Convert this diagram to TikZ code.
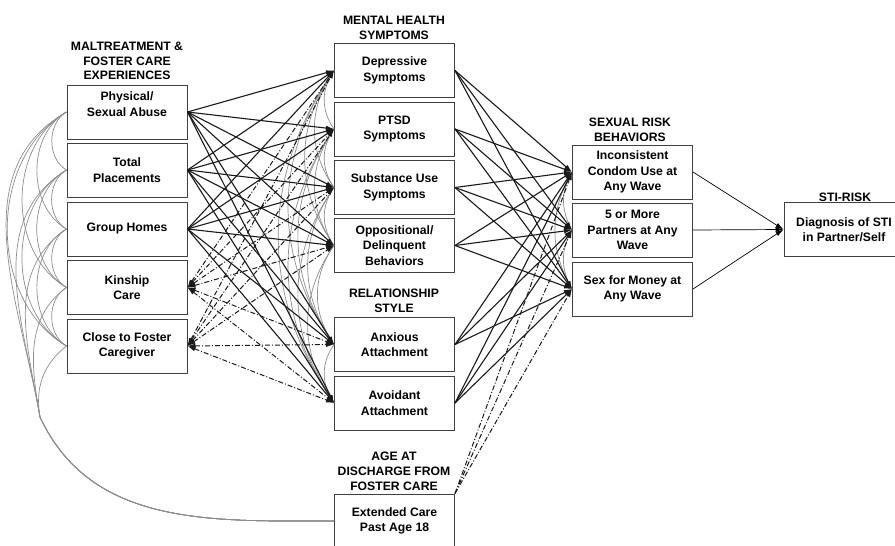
\documentclass[tikz,border=0pt]{standalone}
\usepackage{fontspec}
\setmainfont{Liberation Sans}
\usetikzlibrary{arrows.meta}

\tikzset{
  box/.style={draw=black!75, line width=1pt, minimum width=120pt, minimum height=54pt,
    inner sep=2pt, align=center, font=\bfseries\fontsize{12.2}{15.5}\selectfont},
  hdr/.style={inner sep=0pt, align=center, font=\bfseries\fontsize{12.2}{14.8}\selectfont},
  sig/.style={draw=black!90, line width=1.1pt, ->},
  dd/.style={draw=black!90, line width=1pt, dash pattern=on 5pt off 2pt on 1pt off 2pt},
  cov/.style={draw=black!45, line width=0.7pt},
  sti/.style={draw=black, line width=0.7pt, ->}
}

\begin{document}
\begin{tikzpicture}[x=1pt, y=-1pt, >={Latex[length=8pt,width=5pt]}]
  \useasboundingbox (0,0) rectangle (895,546);

  \node[hdr] (hmal) at (127,61) {MALTREATMENT \&\\FOSTER CARE\\EXPERIENCES};
  \node[hdr] (hmen) at (394,27.5) {MENTAL HEALTH\\SYMPTOMS};
  \node[hdr] (hrel) at (394,301) {RELATIONSHIP\\STYLE};
  \node[hdr] (hage) at (394,471.5) {AGE AT\\DISCHARGE FROM\\FOSTER CARE};
  \node[hdr] (hsex) at (630,129.5) {SEXUAL RISK\\BEHAVIORS};
  \node[hdr] (hsti) at (845,197) {STI-RISK};

  \node[box, text depth=16pt] (phys) at (127,112) {Physical/\\Sexual Abuse};
  \node[box] (place) at (127,170) {Total\\Placements};
  \node[box] (group) at (127,229) {Group Homes};
  \node[box] (kin) at (127,287.5) {Kinship\\Care};
  \node[box] (close) at (127,346) {Close to Foster\\Caregiver};

  \node[box] (dep) at (394.5,70.5) {Depressive\\Symptoms};
  \node[box] (ptsd) at (394.5,129) {PTSD\\Symptoms};
  \node[box] (sub) at (394.5,187.5) {Substance Use\\Symptoms};
  \node[box] (opp) at (394.5,245.5) {Oppositional/\\Delinquent\\Behaviors};
  \node[box] (anx) at (394.5,344.5) {Anxious\\Attachment};
  \node[box] (avo) at (394.5,403) {Avoidant\\Attachment};
  \node[box] (ext) at (394.5,521) {Extended Care\\Past Age 18};

  \node[box] (cond) at (632.5,172) {Inconsistent\\Condom Use at\\Any Wave};
  \node[box] (part) at (632.5,230) {5 or More\\Partners at Any\\Wave};
  \node[box] (money) at (632.5,289) {Sex for Money at\\Any Wave};

  \node[box] (diag) at (844,229.5) {Diagnosis of STI\\in Partner/Self};

  \foreach \a/\b in {phys/place,phys/group,phys/kin,phys/close,place/group,
      place/kin,place/close,group/kin,group/close,kin/close}
    \draw[cov] (\a.west) to[out=210,in=150] (\b.west);

  \coordinate (jn) at (40,417);
  \foreach \a/\o in {phys/210,place/212,group/214,kin/216,close/218}
    \draw[cov] (\a.west) to[out=\o,in=100] (jn) to[out=-65,in=180] (ext.west);

  \foreach \a/\b in {dep/ptsd,dep/sub,dep/opp,dep/anx,dep/avo,ptsd/sub,ptsd/opp,
      ptsd/anx,ptsd/avo,sub/opp,sub/anx,sub/avo,opp/anx,opp/avo,anx/avo}
    \draw[cov] (\a.west) to[out=235,in=125] (\b.west);

  \foreach \a/\b in {cond/part,cond/money,part/money}
    \draw[cov] (\a.west) to[out=240,in=120] (\b.west);

  \foreach \s in {phys,place,group}
    \foreach \t in {dep,ptsd,sub,opp,anx,avo}
      \draw[sig] (\s.east) -- (\t.west);

  \foreach \s in {kin,close}
    \foreach \t in {dep,ptsd,sub,opp,anx,avo}
      \draw[dd,<->] (\s.east) -- (\t.west);

  \foreach \s in {dep,ptsd,sub,opp,anx,avo}
    \foreach \t in {cond,part,money}
      \draw[sig] (\s.east) -- (\t.west);

  \foreach \t in {cond,part,money}
    \draw[dd,->] (ext.north east) -- (\t.west);

  \foreach \s in {cond,part,money}
    \draw[sti] (\s.east) -- (diag.west);
\end{tikzpicture}
\end{document}
